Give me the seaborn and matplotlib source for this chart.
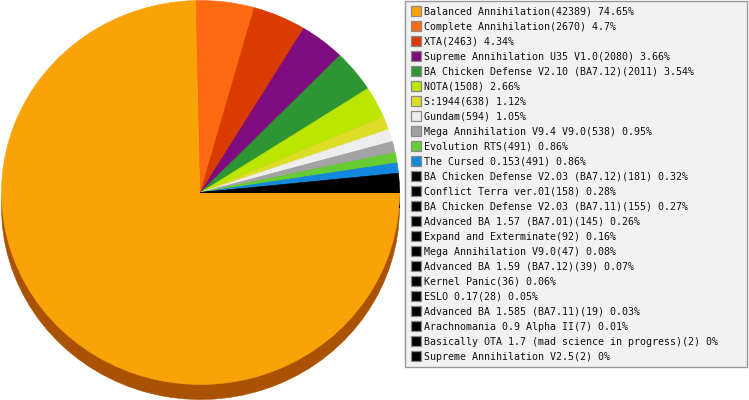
import matplotlib
matplotlib.use("Agg")
import matplotlib.pyplot as plt
from matplotlib.lines import Line2D
import matplotlib.colors as mcolors
import seaborn as sns

# Mod usage counts, in legend order
mods = [
    "Balanced Annihilation", "Complete Annihilation", "XTA",
    "Supreme Annihilation U35 V1.0", "BA Chicken Defense V2.10 (BA7.12)",
    "NOTA", "S:1944", "Gundam", "Mega Annihilation V9.4 V9.0",
    "Evolution RTS", "The Cursed 0.153", "BA Chicken Defense V2.03 (BA7.12)",
    "Conflict Terra ver.01", "BA Chicken Defense V2.03 (BA7.11)",
    "Advanced BA 1.57 (BA7.01)", "Expand and Exterminate",
    "Mega Annihilation V9.0", "Advanced BA 1.59 (BA7.12)", "Kernel Panic",
    "ESLO 0.17", "Advanced BA 1.585 (BA7.11)", "Arachnomania 0.9 Alpha II",
    "Basically OTA 1.7 (mad science in progress)", "Supreme Annihilation V2.5",
]
counts = [42389, 2670, 2463, 2080, 2011, 1508, 638, 594, 538, 491, 491, 181,
          158, 155, 145, 92, 47, 39, 36, 28, 19, 7, 2, 2]
slice_colors = ["#F9A308", "#FD6A11", "#DA3B01", "#7E0C7F", "#2E9535",
                "#BBE600", "#DDDD28", "#EEEEEE", "#A3A3A3", "#66CC33",
                "#1188DD"] + ["#000000"] * 13

sns.set_style("white")
plt.rcParams["font.family"] = ["DejaVu Sans Mono", "DejaVu Sans"]

total = sum(counts)
labels = [f"{m}({c}) {round(c / total * 100, 2):g}%" for m, c in zip(mods, counts)]


def shade(c):
    r, g, b = mcolors.to_rgb(c)
    return (r * 0.68, g * 0.51, b * 0.3)


W, H = 749, 400
fig = plt.figure(figsize=(W / 100, H / 100), dpi=100)

# pie is a slightly squashed ellipse: rx=199px, ry=192px, centre (200.5, 192.5)
rx, ry, cx, cy = 199, 192, 200.5, 192.5
ax = fig.add_axes([(cx - rx) / W, 0, 2 * rx / W, 1])

# 3d-ish rim underneath
rim, _ = ax.pie(counts, colors=[shade(c) for c in slice_colors], startangle=0,
                counterclock=False, center=(0, -15 / ry))
wedges, _ = ax.pie(counts, colors=slice_colors, startangle=0,
                   counterclock=False, center=(0, 0))
# hide the hairline seams between the thin slices
for w in rim + wedges:
    w.set_edgecolor(w.get_facecolor())
    w.set_linewidth(0.4)

ax.set_aspect("auto")
ax.set_xlim(-1, 1)
ax.set_ylim(-(H - cy) / ry, cy / ry)
ax.axis("off")

handles = [Line2D([], [], linestyle="none", marker="s", markersize=6.6,
                  markerfacecolor=c, markeredgecolor="#8a8a8a",
                  markeredgewidth=0.9) for c in slice_colors]

leg = fig.legend(handles, labels, loc="upper left",
                 bbox_to_anchor=(405 / W, 0, 342 / W, 1 - 1 / H),
                 bbox_transform=fig.transFigure, mode="expand",
                 prop=dict(family="DejaVu Sans Mono", size=7.2),
                 borderpad=0.55, borderaxespad=0, handlelength=1.0,
                 handletextpad=0.35, labelspacing=0.502, fancybox=False,
                 framealpha=1, facecolor="#F2F2F2", edgecolor="#999999")
leg.get_frame().set_linewidth(1.0)
for t in leg.get_texts():
    t.set_color("#111111")

fig.savefig("out.png", dpi=100)
